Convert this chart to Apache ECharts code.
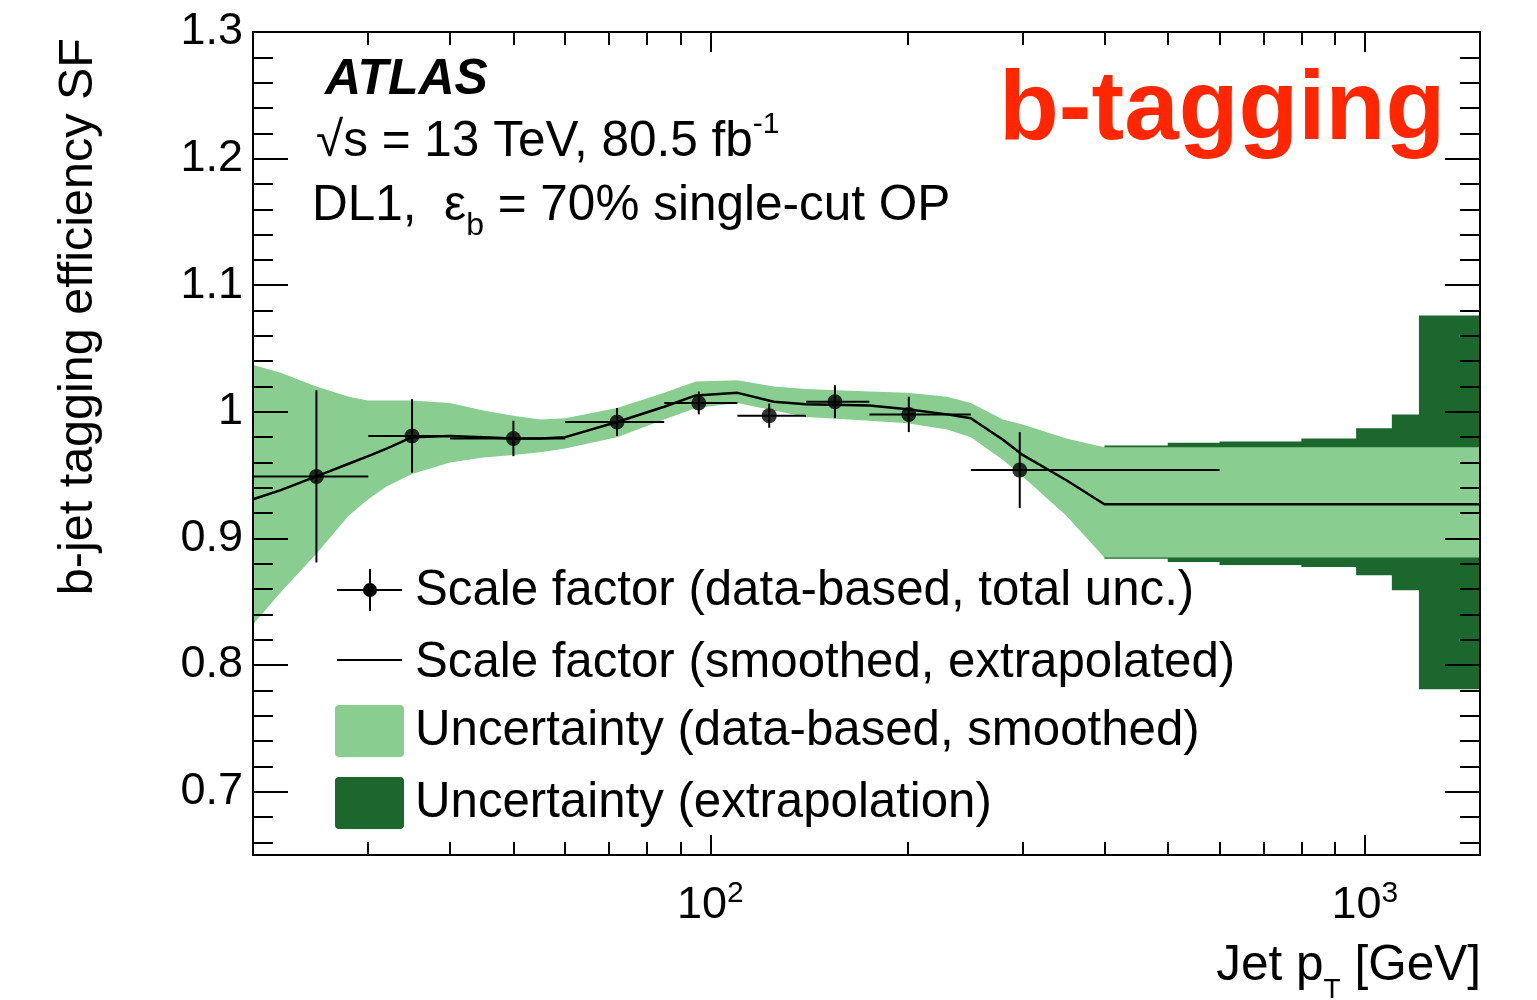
<!DOCTYPE html>
<html>
<head>
<meta charset="utf-8">
<script src="https://cdn.jsdelivr.net/npm/echarts@6/dist/echarts.min.js"></script>
<style>html,body{margin:0;padding:0;background:#fff}#chart{width:1537px;height:1000px}</style>
</head>
<body>
<div id="chart"></div>
<script>
// ---------------- data ----------------
// smoothed data-based uncertainty band and smoothed / extrapolated SF
const bandPt = [20, 22, 25, 28, 30, 32, 35, 40, 45, 50, 55, 60, 72, 85, 95, 110, 125, 140, 175, 200, 230, 250, 280, 300, 350, 400, 1500];
const bandUp = [1.037, 1.031, 1.020, 1.012, 1.009, 1.009, 1.009, 1.007, 1.001, 0.997, 0.994, 0.995, 1.003, 1.015, 1.024, 1.025, 1.020, 1.018, 1.016, 1.015, 1.012, 1.007, 0.994, 0.990, 0.979, 0.972, 0.972];
const bandLo = [0.832, 0.857, 0.888, 0.918, 0.931, 0.941, 0.951, 0.960, 0.964, 0.966, 0.968, 0.971, 0.980, 0.994, 1.003, 1.007, 1.001, 0.996, 0.993, 0.991, 0.986, 0.980, 0.962, 0.949, 0.918, 0.885, 0.885];
const smoothSF = [0.931, 0.938, 0.949, 0.959, 0.965, 0.971, 0.980, 0.981, 0.980, 0.979, 0.979, 0.980, 0.992, 1.004, 1.013, 1.015, 1.008, 1.006, 1.005, 1.002, 0.998, 0.995, 0.978, 0.966, 0.946, 0.927, 0.927];

// extrapolation uncertainty (step bins)
const extrapEdges = [400, 500, 600, 800, 970, 1100, 1210, 1500];
const extrapUp = [0.9734, 0.9755, 0.9766, 0.979, 0.987, 0.998, 1.076];
const extrapLo = [0.884, 0.8815, 0.879, 0.8775, 0.871, 0.859, 0.781];

// data-based scale factors (total unc.)
const ptX   = [25, 35, 50, 72, 96, 123, 155, 201, 297];
const ptXLo = [20, 30, 40, 60, 85, 110, 140, 175, 250];
const ptXHi = [30, 40, 60, 85, 110, 140, 175, 250, 600];
const ptSF  = [0.949, 0.981, 0.979, 0.992, 1.007, 0.997, 1.008, 0.998, 0.954];
const ptErr = [0.068, 0.029, 0.014, 0.011, 0.009, 0.0095, 0.013, 0.014, 0.030];

// ticks and labels
const xMajor = [100, 1000];
const xMajorExp = ['2', '3'];
const xMinor = [30, 40, 50, 60, 70, 80, 90, 200, 300, 400, 500, 600, 700, 800, 900];
const yMajor = [0.7, 0.8, 0.9, 1.0, 1.1, 1.2, 1.3];
const yMajorLabels = ['0.7', '0.8', '0.9', '1', '1.1', '1.2', '1.3'];
const yMinor = [0.66, 0.68, 0.72, 0.74, 0.76, 0.78, 0.82, 0.84, 0.86, 0.88, 0.92, 0.94, 0.96, 0.98,
                1.02, 1.04, 1.06, 1.08, 1.12, 1.14, 1.16, 1.18, 1.22, 1.24, 1.26, 1.28];

const legendLabels = ['Scale factor (data-based, total unc.)', 'Scale factor (smoothed, extrapolated)',
                      'Uncertainty (data-based, smoothed)', 'Uncertainty (extrapolation)'];
const yTitle = 'b-jet tagging efficiency SF';

// ---------------- style ----------------
const FONT = '"Liberation Sans", Arial, Helvetica, sans-serif';
const lightGreen = '#89ce90';
const darkGreen = '#1c672e';
const X_MIN = 20, X_MAX = 1500, Y_MIN = 0.65, Y_MAX = 1.3;

function xAxisDef(pos, ticks, len, withLabels, withLine) {
  return {
    type: 'log', logBase: 10, min: X_MIN, max: X_MAX, position: pos, gridIndex: 0, z: 10,
    axisLine: { show: withLine, onZero: false, lineStyle: { color: '#000', width: 2 } },
    splitLine: { show: false }, minorTick: { show: false }, minorSplitLine: { show: false },
    axisTick: { show: true, inside: true, length: len, customValues: ticks, lineStyle: { color: '#000', width: 2 } },
    axisLabel: withLabels ? {
      show: true, customValues: xMajor, margin: 24, color: '#000',
      formatter: function (v) {
        const i = xMajor.indexOf(Math.round(v));
        return '{n|10}{s|' + xMajorExp[i] + '}';
      },
      rich: {
        n: { fontSize: 45, lineHeight: 54, fontFamily: FONT, color: '#000', verticalAlign: 'middle' },
        s: { fontSize: 30, lineHeight: 30, fontFamily: FONT, color: '#000', verticalAlign: 'top' }
      }
    } : { show: false }
  };
}
function yAxisDef(pos, ticks, len, withLabels, withLine) {
  return {
    type: 'value', min: Y_MIN, max: Y_MAX, position: pos, gridIndex: 0, z: 10,
    axisLine: { show: withLine, onZero: false, lineStyle: { color: '#000', width: 2 } },
    splitLine: { show: false }, minorTick: { show: false },
    axisTick: { show: true, inside: true, length: len, customValues: ticks, lineStyle: { color: '#000', width: 2 } },
    axisLabel: withLabels ? {
      show: true, customValues: yMajor, margin: 10, color: '#000', fontSize: 45, fontFamily: FONT,
      padding: [5, 0, 0, 0],
      formatter: function (v) {
        const i = yMajor.findIndex(t => Math.abs(t - v) < 1e-6);
        return i >= 0 ? yMajorLabels[i] : '';
      }
    } : { show: false }
  };
}

const chart = echarts.init(document.getElementById('chart'), null, { renderer: 'canvas' });

const option = {
  animation: false,
  backgroundColor: '#fff',
  textStyle: { fontFamily: FONT },
  grid: { left: 253, top: 32, width: 1227, height: 823, show: true, borderColor: '#000', borderWidth: 2, backgroundColor: 'transparent' },
  xAxis: [
    xAxisDef('bottom', xMajor, 20, true, true),
    xAxisDef('bottom', xMinor, 13, false, false),
    xAxisDef('top', xMajor, 20, false, true),
    xAxisDef('top', xMinor, 13, false, false)
  ],
  yAxis: [
    yAxisDef('left', yMajor, 35, true, true),
    yAxisDef('left', yMinor, 20, false, false),
    yAxisDef('right', yMajor, 35, false, true),
    yAxisDef('right', yMinor, 20, false, false)
  ],
  series: [
    { // extrapolation uncertainty, step band
      name: legendLabels[3], type: 'custom', xAxisIndex: 0, yAxisIndex: 0, z: 1,
      data: extrapUp.map((u, i) => [extrapEdges[i], extrapEdges[i + 1], extrapLo[i], u]),
      encode: { x: [0, 1], y: [2, 3] },
      renderItem: function (params, api) {
        if (params.dataIndex !== 0) return null;
        const up = [], lo = [];
        for (let i = 0; i < extrapUp.length; i++) {
          up.push(api.coord([extrapEdges[i], extrapUp[i]]), api.coord([extrapEdges[i + 1], extrapUp[i]]));
          lo.push(api.coord([extrapEdges[i], extrapLo[i]]), api.coord([extrapEdges[i + 1], extrapLo[i]]));
        }
        return { type: 'polygon', shape: { points: up.concat(lo.reverse()) }, style: { fill: darkGreen } };
      }
    },
    { // data-based smoothed uncertainty band
      name: legendLabels[2], type: 'custom', xAxisIndex: 0, yAxisIndex: 0, z: 2,
      data: bandPt.map((x, i) => [x, bandLo[i], bandUp[i]]),
      encode: { x: 0, y: [1, 2] },
      renderItem: function (params, api) {
        if (params.dataIndex !== 0) return null;
        const up = [], lo = [];
        for (let i = 0; i < bandPt.length; i++) {
          up.push(api.coord([bandPt[i], bandUp[i]]));
          lo.push(api.coord([bandPt[i], bandLo[i]]));
        }
        return { type: 'polygon', shape: { points: up.concat(lo.reverse()) }, style: { fill: lightGreen } };
      }
    },
    { // smoothed / extrapolated SF
      name: legendLabels[1], type: 'line', xAxisIndex: 0, yAxisIndex: 0, z: 3,
      data: bandPt.map((x, i) => [x, smoothSF[i]]),
      showSymbol: false, smooth: false,
      lineStyle: { color: '#000', width: 2.5 }, itemStyle: { color: '#000' }
    },
    { // error bars
      name: legendLabels[0], type: 'custom', xAxisIndex: 0, yAxisIndex: 0, z: 4,
      data: ptX.map((x, i) => [x, ptSF[i], ptXLo[i], ptXHi[i], ptErr[i]]),
      encode: { x: 0, y: 1 },
      renderItem: function (params, api) {
        const x = api.value(0), y = api.value(1), xl = api.value(2), xh = api.value(3), e = api.value(4);
        const pL = api.coord([xl, y]), pR = api.coord([xh, y]);
        const pT = api.coord([x, y + e]), pB = api.coord([x, y - e]);
        const st = { stroke: '#000', lineWidth: 2 };
        return { type: 'group', children: [
          { type: 'line', shape: { x1: pL[0], y1: pL[1], x2: pR[0], y2: pR[1] }, style: st },
          { type: 'line', shape: { x1: pT[0], y1: pT[1], x2: pB[0], y2: pB[1] }, style: st }
        ] };
      }
    },
    { // markers
      name: legendLabels[0], type: 'scatter', xAxisIndex: 0, yAxisIndex: 0, z: 5,
      data: ptX.map((x, i) => [x, ptSF[i]]),
      symbol: 'circle', symbolSize: 15, itemStyle: { color: '#000' }
    }
  ],
  graphic: [
    // y axis title
    { type: 'text', x: 79, y: 38, rotation: Math.PI / 2, z: 20,
      style: { text: yTitle, fontSize: 48.5, fontFamily: FONT, fill: '#000', align: 'right', verticalAlign: 'middle' } },
    // x axis title
    { type: 'text', x: 1481, y: 966, z: 20,
      style: { text: '{n|Jet p}{s|T}{n| [GeV]}', align: 'right', verticalAlign: 'middle', fill: '#000',
        rich: {
          n: { fontSize: 49.5, lineHeight: 48, fontFamily: FONT, fill: '#000', verticalAlign: 'middle' },
          s: { fontSize: 28, lineHeight: 14, fontFamily: FONT, fill: '#000', verticalAlign: 'top', padding: [34, 0, 0, 0] }
        } } },
    // ATLAS label
    { type: 'text', x: 325, y: 80, z: 20,
      style: { text: 'ATLAS', fontSize: 50, fontWeight: 'bold', fontStyle: 'italic', fontFamily: FONT, fill: '#000', align: 'left', verticalAlign: 'middle' } },
    { type: 'text', x: 316, y: 142, z: 20,
      style: { text: '{n|\u221As = 13 TeV, 80.5 fb}{s|-1}', align: 'left', verticalAlign: 'middle', fill: '#000',
        rich: {
          n: { fontSize: 49.5, lineHeight: 64, fontFamily: FONT, fill: '#000', verticalAlign: 'middle' },
          s: { fontSize: 30, lineHeight: 30, fontFamily: FONT, fill: '#000', verticalAlign: 'top' }
        } } },
    { type: 'text', x: 312, y: 206, z: 20,
      style: { text: '{n|DL1,  \u03B5}{s|b}{n| = 70% single-cut OP}', align: 'left', verticalAlign: 'middle', fill: '#000',
        rich: {
          n: { fontSize: 49.5, lineHeight: 48, fontFamily: FONT, fill: '#000', verticalAlign: 'middle' },
          s: { fontSize: 32, lineHeight: 16, fontFamily: FONT, fill: '#000', verticalAlign: 'top', padding: [28, 0, 0, 0] }
        } } },
    // b-tagging tag
    { type: 'text', x: 999, y: 112, z: 20,
      style: { text: 'b-tagging', fontSize: 98, fontWeight: 'bold', fontFamily: FONT, fill: '#ff2600', align: 'left', verticalAlign: 'middle' } },
    // legend
    { type: 'line', z: 20, shape: { x1: 337, y1: 590, x2: 402, y2: 590 }, style: { stroke: '#000', lineWidth: 2 } },
    { type: 'line', z: 20, shape: { x1: 370, y1: 569, x2: 370, y2: 611 }, style: { stroke: '#000', lineWidth: 2 } },
    { type: 'circle', z: 20, shape: { cx: 370, cy: 590, r: 7 }, style: { fill: '#000' } },
    { type: 'text', x: 415, y: 591, z: 20, style: { text: legendLabels[0], fontSize: 49.2, fontFamily: FONT, fill: '#000', align: 'left', verticalAlign: 'middle' } },
    { type: 'line', z: 20, shape: { x1: 337, y1: 660, x2: 402, y2: 660 }, style: { stroke: '#000', lineWidth: 2 } },
    { type: 'text', x: 415, y: 663, z: 20, style: { text: legendLabels[1], fontSize: 49.2, fontFamily: FONT, fill: '#000', align: 'left', verticalAlign: 'middle' } },
    { type: 'rect', z: 20, shape: { x: 335, y: 705, width: 69, height: 52, r: 4 }, style: { fill: lightGreen } },
    { type: 'text', x: 415, y: 731, z: 20, style: { text: legendLabels[2], fontSize: 49.2, fontFamily: FONT, fill: '#000', align: 'left', verticalAlign: 'middle' } },
    { type: 'rect', z: 20, shape: { x: 335, y: 777, width: 69, height: 52, r: 4 }, style: { fill: darkGreen } },
    { type: 'text', x: 415, y: 803, z: 20, style: { text: legendLabels[3], fontSize: 49.2, fontFamily: FONT, fill: '#000', align: 'left', verticalAlign: 'middle' } }
  ]
};
chart.setOption(option);
</script>
</body>
</html>
